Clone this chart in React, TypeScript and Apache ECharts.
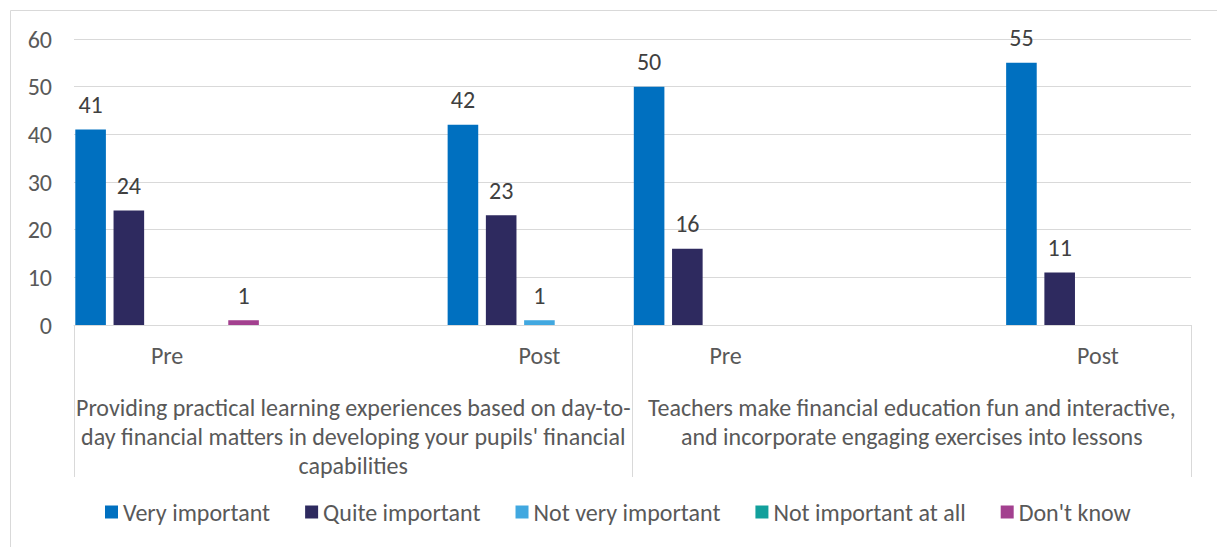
import React, { useEffect, useRef } from "react";
import * as echarts from "echarts";

const categories = ["Pre", "", "Post", "Pre", "", "Post"];
const groupLabels = [
  "Providing practical learning experiences based on day-to-\nday financial matters in developing your pupils' financial\ncapabilities",
  "Teachers make financial education fun and interactive,\nand incorporate engaging exercises into lessons",
];
const seriesNames = [
  "Very important",
  "Quite important",
  "Not very important",
  "Not important at all",
  "Don't know",
];
const veryImportant = [41, null, 42, 50, null, 55];
const quiteImportant = [24, null, 23, 16, null, 11];
const notVeryImportant = [0, null, 1, 0, null, 0];
const notImportantAtAll = [0, null, 0, 0, null, 0];
const dontKnow = [1, null, 0, 0, null, 0];
const yTicks = { min: 0, max: 60, interval: 10 };

const colors = ["#0070C0", "#2E2A5F", "#41A8E0", "#12A09C", "#A3408F"];
const FONT = "Calibri, Carlito, Lato, sans-serif";
const FS = 24;
const TEXT = "#595959";
const LINE = "#D9D9D9";

export default function App() {
  const ref = useRef<HTMLDivElement>(null);
  useEffect(() => {
    if (!ref.current) return;
    const chart = echarts.init(ref.current, null, { renderer: "svg" });
    const values = [veryImportant, quiteImportant, notVeryImportant, notImportantAtAll, dontKnow];
    chart.setOption({
      animation: false,
      backgroundColor: "#ffffff",
      textStyle: { fontFamily: FONT },
      color: colors,
      graphic: [
        {
          type: "rect",
          shape: { x: 10.5, y: 10.5, width: 1300, height: 600 },
          style: { fill: "none", stroke: LINE, lineWidth: 1 },
          silent: true,
        },
      ],
      grid: { left: 74, top: 39, width: 1117, height: 286, containLabel: false },
      legend: {
        data: seriesNames,
        left: 105,
        top: 500,
        padding: 0,
        itemWidth: 13,
        itemHeight: 13,
        itemGap: 35,
        icon: "rect",
        textStyle: { color: TEXT, fontSize: FS, fontFamily: FONT },
      },
      xAxis: [
        {
          type: "category",
          data: categories,
          position: "bottom",
          axisLine: { show: true, lineStyle: { color: LINE, width: 1 } },
          axisTick: { show: false },
          axisLabel: { interval: 0, color: TEXT, fontSize: FS, lineHeight: 26, margin: 17, fontFamily: FONT },
          splitLine: { show: false },
        },
        {
          type: "category",
          data: groupLabels,
          position: "bottom",
          axisLine: { show: false },
          axisTick: { show: true, length: 152, lineStyle: { color: LINE, width: 1 }, interval: 0 },
          axisLabel: { interval: 0, color: TEXT, fontSize: FS, lineHeight: 29, margin: 68, fontFamily: FONT, align: "center" },
          splitLine: { show: false },
        },
      ],
      yAxis: {
        type: "value",
        min: yTicks.min,
        max: yTicks.max,
        interval: yTicks.interval,
        axisLine: { show: false },
        axisTick: { show: false },
        axisLabel: { color: TEXT, fontSize: FS, margin: 22, fontFamily: FONT },
        splitLine: { lineStyle: { color: LINE, width: 1 } },
      },
      series: seriesNames.map((name, i) => ({
        name,
        type: "bar",
        xAxisIndex: 0,
        data: values[i],
        barGap: "25%",
        barCategoryGap: "1.4%",
        itemStyle: { color: colors[i] },
        label: {
          show: true,
          position: "top",
          distance: 13,
          color: "#404040",
          fontSize: FS,
          fontFamily: FONT,
          formatter: (p: any) => (p.value ? String(p.value) : ""),
        },
      })),
    });
    return () => chart.dispose();
  }, []);
  return (
    <div
      ref={ref}
      style={{ position: "fixed", left: 0, top: 0, width: 1217, height: 547 }}
    />
  );
}
